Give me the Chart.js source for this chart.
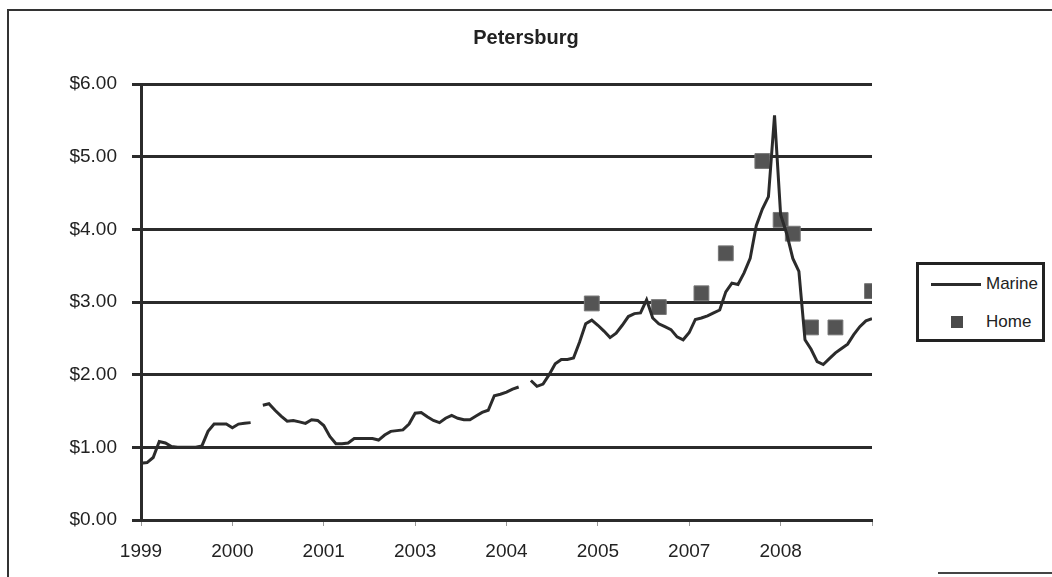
<!DOCTYPE html>
<html lang="en">

<head>
    <meta charset="UTF-8" />
    <title>Petersburg</title>
    <script src="https://cdn.jsdelivr.net/npm/chart.js"></script>
    <style>
        body { margin: 0; background: #fff; font-family: "Liberation Sans", Arial, sans-serif; }
        #wrap { position: relative; width: 1052px; height: 577px; overflow: hidden; }
        #frame { position: absolute; left: 7px; top: 9px; width: 1100px; height: 600px;
                 border-left: 2px solid #333; border-top: 2px solid #333; }
        #foot { position: absolute; left: 938px; top: 572px; width: 120px; height: 2px; background: #444; }
        #legend { position: absolute; left: 916px; top: 262px; width: 123px; height: 74px;
                  border: 3px solid #222; background: #fff; color: #222; font-size: 17px; }
        .swatch-line { position: absolute; left: 12px; width: 50px; height: 3px; background: #2b2b2b; }
        .swatch-box { position: absolute; left: 32px; width: 12px; height: 12px; background: #4a4a4a; }
        .lbl { position: absolute; left: 67px; }
    </style>
</head>

<body>
    <div id="wrap">
        <div id="frame"></div>
        <div id="foot"></div>
        <canvas id="chart" width="1052" height="577"></canvas>
        <!-- Legend -->
        <div id="legend"></div>
    </div>

    <script>
        // tick labels under every 15th sample
        const xTickLabels = ['1999', '2000', '2001', '2003', '2004', '2005', '2007', '2008'];
        const xStep = 15;
        const yTicks = [0, 1, 2, 3, 4, 5, 6];

        // Marine price, one value per sample (null = no data)
        const marine = [
            0.78, 0.79, 0.86, 1.08, 1.06, 1.01, 1.00, 1.00, 1.00, 1.00,
            1.02, 1.22, 1.32, 1.32, 1.32, 1.27, 1.32, 1.33, 1.34, null,
            1.58, 1.60, 1.51, 1.43, 1.36, 1.37, 1.35, 1.33, 1.38, 1.37,
            1.30, 1.15, 1.05, 1.05, 1.06, 1.12, 1.12, 1.12, 1.12, 1.10,
            1.17, 1.22, 1.23, 1.24, 1.32, 1.47, 1.48, 1.42, 1.37, 1.34,
            1.40, 1.44, 1.40, 1.38, 1.38, 1.43, 1.48, 1.51, 1.71, 1.73,
            1.76, 1.80, 1.83, null, 1.92, 1.84, 1.87, 2.00, 2.15, 2.21,
            2.21, 2.23, 2.45, 2.70, 2.75, 2.68, 2.60, 2.51, 2.57, 2.68,
            2.80, 2.84, 2.85, 3.03, 2.78, 2.70, 2.66, 2.62, 2.52, 2.48,
            2.58, 2.76, 2.78, 2.81, 2.85, 2.89, 3.14, 3.26, 3.24, 3.40,
            3.60, 4.05, 4.28, 4.45, 5.57, 4.20, 3.94, 3.60, 3.42, 2.48,
            2.35, 2.18, 2.14, 2.22, 2.30, 2.36, 2.42, 2.55, 2.66, 2.74,
            2.77
        ];

        // Home price, sample position and value
        const homeAt = [74, 85, 92, 96, 102, 105, 107, 110, 114, 120];
        const homeValues = [2.98, 2.93, 3.12, 3.67, 4.94, 4.13, 3.94, 2.65, 2.65, 3.15];

        const FONT = '"Liberation Sans", Arial, sans-serif';
        const INK = '#2b2b2b';

        const ctx = document.getElementById('chart').getContext('2d');
        const chart = new Chart(ctx, {
            type: 'line',
            data: {
                datasets: [{
                    label: 'Marine',
                    data: marine.map((v, i) => ({ x: i, y: v })),
                    borderColor: INK,
                    borderWidth: 3,
                    pointRadius: 0,
                    tension: 0,
                    spanGaps: false
                }, {
                    label: 'Home',
                    data: homeAt.map((x, i) => ({ x: x, y: homeValues[i] })),
                    showLine: false,
                    pointStyle: 'rect',
                    pointRadius: 10.5,
                    backgroundColor: '#545454',
                    borderColor: '#777',
                    borderWidth: 1
                }]
            },
            options: {
                responsive: false,
                animation: false,
                layout: { padding: 0 },
                plugins: {
                    legend: { display: false },
                    tooltip: { enabled: false },
                    title: {
                        display: true,
                        text: 'Petersburg',
                        color: '#222',
                        font: { family: FONT, size: 20, weight: 'bold' },
                        padding: { top: 26, bottom: 34 }
                    }
                },
                scales: {
                    x: {
                        type: 'linear',
                        min: 0,
                        max: xTickLabels.length * xStep,
                        afterFit: s => { s.height = 57; },
                        afterBuildTicks: s => {
                            s.ticks = xTickLabels.map((t, i) => ({ value: i * xStep })).concat([{ value: xTickLabels.length * xStep }]);
                        },
                        ticks: {
                            autoSkip: false,
                            maxRotation: 0,
                            padding: 14,
                            color: '#222',
                            font: { family: FONT, size: 19 },
                            callback: v => xTickLabels[v / xStep] || ''
                        },
                        grid: { drawOnChartArea: false, tickLength: 6, color: '#999', lineWidth: 1 },
                        border: { color: INK, width: 3 }
                    },
                    y: {
                        min: 0,
                        max: 6,
                        afterFit: s => { s.width = 141; },
                        afterBuildTicks: s => { s.ticks = yTicks.map(v => ({ value: v })); },
                        ticks: {
                            padding: 15,
                            color: '#222',
                            font: { family: FONT, size: 19 },
                            callback: v => '$' + v.toFixed(2)
                        },
                        grid: { color: INK, lineWidth: 3, tickLength: 9 },
                        border: { color: INK, width: 3 }
                    },
                    // empty right-hand space that holds the legend
                    side: {
                        position: 'right',
                        min: 0,
                        max: 6,
                        afterFit: s => { s.width = 180; },
                        ticks: { display: false },
                        grid: { display: false },
                        border: { display: false }
                    }
                }
            }
        });

        // legend built from the datasets
        const legend = document.getElementById('legend');
        chart.data.datasets.forEach((ds, i) => {
            const top = i === 0 ? 19 : 57;
            const sw = document.createElement('div');
            sw.className = i === 0 ? 'swatch-line' : 'swatch-box';
            sw.style.top = (i === 0 ? top - 1.5 : top - 6) + 'px';
            const lb = document.createElement('div');
            lb.className = 'lbl';
            lb.style.top = (top - 10) + 'px';
            lb.textContent = ds.label;
            legend.appendChild(sw);
            legend.appendChild(lb);
        });
    </script>
</body>

</html>
